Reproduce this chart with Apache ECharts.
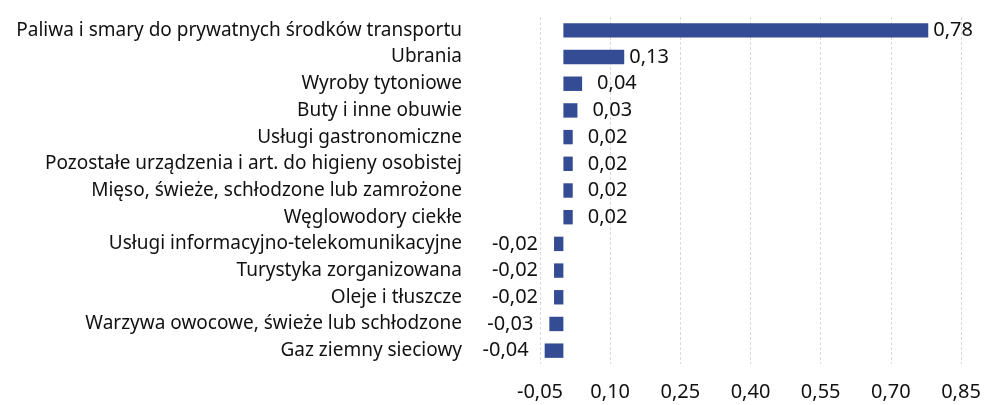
<!DOCTYPE html>
<html><head><meta charset="utf-8">
<script src="https://cdn.jsdelivr.net/npm/echarts@6/dist/echarts.min.js"></script>
<style>html,body{margin:0;padding:0;background:#fff}#c{width:987px;height:405px}</style>
</head><body><div id="c"></div>
<script>
const categories = [
  "Paliwa i smary do prywatnych środków transportu",
  "Ubrania",
  "Wyroby tytoniowe",
  "Buty i inne obuwie",
  "Usługi gastronomiczne",
  "Pozostałe urządzenia i art. do higieny osobistej",
  "Mięso, świeże, schłodzone lub zamrożone",
  "Węglowodory ciekłe",
  "Usługi informacyjno-telekomunikacyjne",
  "Turystyka zorganizowana",
  "Oleje i tłuszcze",
  "Warzywa owocowe, świeże lub schłodzone",
  "Gaz ziemny sieciowy"
];
const values = [0.78, 0.13, 0.04, 0.03, 0.02, 0.02, 0.02, 0.02, -0.02, -0.02, -0.02, -0.03, -0.04];
const axisMin = -0.05, axisMax = 0.85, axisStep = 0.15;

const fmt = v => v.toFixed(2).replace('.', ',');
const chart = echarts.init(document.getElementById('c'), null, {renderer: 'canvas'});
chart.setOption({
  animation: false,
  textStyle: {fontFamily: 'Noto Sans'},
  grid: {left: 540, right: 26, top: 17, bottom: 41, containLabel: false},
  xAxis: {
    type: 'value', min: axisMin, max: axisMax, interval: axisStep,
    axisLine: {show: false}, axisTick: {show: false},
    splitLine: {show: true, lineStyle: {color: '#d9d9d9', type: [3, 2], width: 1}},
    axisLabel: {formatter: v => fmt(v), fontSize: 20, color: '#111', margin: 18, fontFamily: 'Noto Sans'}
  },
  yAxis: {
    type: 'category', data: categories, inverse: true,
    axisLine: {show: false}, axisTick: {show: false},
    axisLabel: {fontSize: 19, color: '#111', margin: 78, fontFamily: 'Noto Sans'}
  },
  series: [{
    type: 'bar',
    barWidth: '54%',
    itemStyle: {color: '#344C94'},
    data: values.map(v => ({
      value: v,
      label: {
        show: true,
        position: v >= 0 ? 'right' : 'left',
        distance: v < 0 ? 16 : (v < 0.1 ? 15 : 5),
        formatter: p => fmt(p.value),
        fontSize: 20, color: '#111', fontFamily: 'Noto Sans'
      }
    }))
  }]
});
</script></body></html>
